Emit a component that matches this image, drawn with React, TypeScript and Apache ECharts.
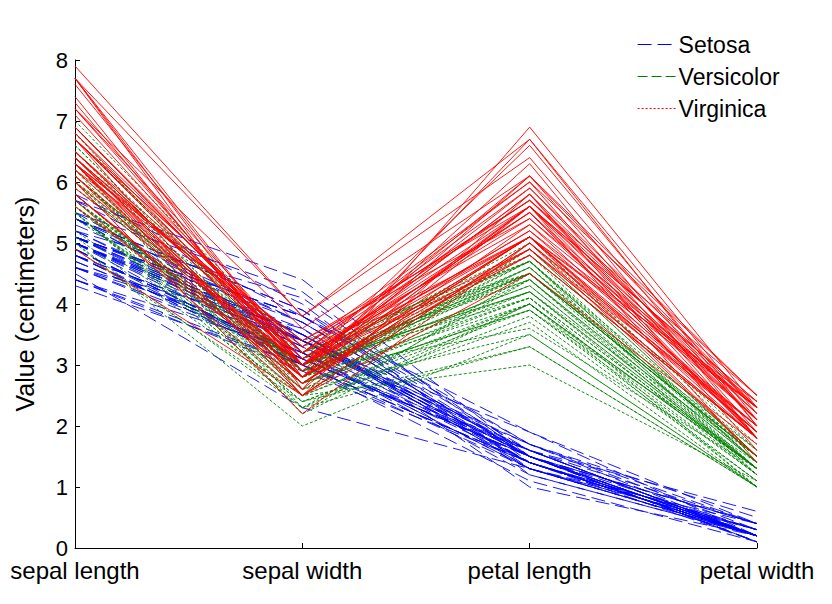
import React, { useEffect, useRef } from 'react';
import * as echarts from 'echarts';

type Row = [number, number, number, number];

const dimensions = ['sepal length', 'sepal width', 'petal length', 'petal width'];
const yTicks = [0, 1, 2, 3, 4, 5, 6, 7, 8];

const setosa: Row[] = [
  [5.1, 3.5, 1.4, 0.2], [4.9, 3.0, 1.4, 0.2], [4.7, 3.2, 1.3, 0.2], [4.6, 3.1, 1.5, 0.2], [5.0, 3.6, 1.4, 0.2],
  [5.4, 3.9, 1.7, 0.4], [4.6, 3.4, 1.4, 0.3], [5.0, 3.4, 1.5, 0.2], [4.4, 2.9, 1.4, 0.2], [4.9, 3.1, 1.5, 0.1],
  [5.4, 3.7, 1.5, 0.2], [4.8, 3.4, 1.6, 0.2], [4.8, 3.0, 1.4, 0.1], [4.3, 3.0, 1.1, 0.1], [5.8, 4.0, 1.2, 0.2],
  [5.7, 4.4, 1.5, 0.4], [5.4, 3.9, 1.3, 0.4], [5.1, 3.5, 1.4, 0.3], [5.7, 3.8, 1.7, 0.3], [5.1, 3.8, 1.5, 0.3],
  [5.4, 3.4, 1.7, 0.2], [5.1, 3.7, 1.5, 0.4], [4.6, 3.6, 1.0, 0.2], [5.1, 3.3, 1.7, 0.5], [4.8, 3.4, 1.9, 0.2],
  [5.0, 3.0, 1.6, 0.2], [5.0, 3.4, 1.6, 0.4], [5.2, 3.5, 1.5, 0.2], [5.2, 3.4, 1.4, 0.2], [4.7, 3.2, 1.6, 0.2],
  [4.8, 3.1, 1.6, 0.2], [5.4, 3.4, 1.5, 0.4], [5.2, 4.1, 1.5, 0.1], [5.5, 4.2, 1.4, 0.2], [4.9, 3.1, 1.5, 0.1],
  [5.0, 3.2, 1.2, 0.2], [5.5, 3.5, 1.3, 0.2], [4.9, 3.1, 1.5, 0.1], [4.4, 3.0, 1.3, 0.2], [5.1, 3.4, 1.5, 0.2],
  [5.0, 3.5, 1.3, 0.3], [4.5, 2.3, 1.3, 0.3], [4.4, 3.2, 1.3, 0.2], [5.0, 3.5, 1.6, 0.6], [5.1, 3.8, 1.9, 0.4],
  [4.8, 3.0, 1.4, 0.3], [5.1, 3.8, 1.6, 0.2], [4.6, 3.2, 1.4, 0.2], [5.3, 3.7, 1.5, 0.2], [5.0, 3.3, 1.4, 0.2],
];

const versicolor: Row[] = [
  [7.0, 3.2, 4.7, 1.4], [6.4, 3.2, 4.5, 1.5], [6.9, 3.1, 4.9, 1.5], [5.5, 2.3, 4.0, 1.3], [6.5, 2.8, 4.6, 1.5],
  [5.7, 2.8, 4.5, 1.3], [6.3, 3.3, 4.7, 1.6], [4.9, 2.4, 3.3, 1.0], [6.6, 2.9, 4.6, 1.3], [5.2, 2.7, 3.9, 1.4],
  [5.0, 2.0, 3.5, 1.0], [5.9, 3.0, 4.2, 1.5], [6.0, 2.2, 4.0, 1.0], [6.1, 2.9, 4.7, 1.4], [5.6, 2.9, 3.6, 1.3],
  [6.7, 3.1, 4.4, 1.4], [5.6, 3.0, 4.5, 1.5], [5.8, 2.7, 4.1, 1.0], [6.2, 2.2, 4.5, 1.5], [5.6, 2.5, 3.9, 1.1],
  [5.9, 3.2, 4.8, 1.8], [6.1, 2.8, 4.0, 1.3], [6.3, 2.5, 4.9, 1.5], [6.1, 2.8, 4.7, 1.2], [6.4, 2.9, 4.3, 1.3],
  [6.6, 3.0, 4.4, 1.4], [6.8, 2.8, 4.8, 1.4], [6.7, 3.0, 5.0, 1.7], [6.0, 2.9, 4.5, 1.5], [5.7, 2.6, 3.5, 1.0],
  [5.5, 2.4, 3.8, 1.1], [5.5, 2.4, 3.7, 1.0], [5.8, 2.7, 3.9, 1.2], [6.0, 2.7, 5.1, 1.6], [5.4, 3.0, 4.5, 1.5],
  [6.0, 3.4, 4.5, 1.6], [6.7, 3.1, 4.7, 1.5], [6.3, 2.3, 4.4, 1.3], [5.6, 3.0, 4.1, 1.3], [5.5, 2.5, 4.0, 1.3],
  [5.5, 2.6, 4.4, 1.2], [6.1, 3.0, 4.6, 1.4], [5.8, 2.6, 4.0, 1.2], [5.0, 2.3, 3.3, 1.0], [5.6, 2.7, 4.2, 1.3],
  [5.7, 3.0, 4.2, 1.2], [5.7, 2.9, 4.2, 1.3], [6.2, 2.9, 4.3, 1.3], [5.1, 2.5, 3.0, 1.1], [5.7, 2.8, 4.1, 1.3],
];

const virginica: Row[] = [
  [6.3, 3.3, 6.0, 2.5], [5.8, 2.7, 5.1, 1.9], [7.1, 3.0, 5.9, 2.1], [6.3, 2.9, 5.6, 1.8], [6.5, 3.0, 5.8, 2.2],
  [7.6, 3.0, 6.6, 2.1], [4.9, 2.5, 4.5, 1.7], [7.3, 2.9, 6.3, 1.8], [6.7, 2.5, 5.8, 1.8], [7.2, 3.6, 6.1, 2.5],
  [6.5, 3.2, 5.1, 2.0], [6.4, 2.7, 5.3, 1.9], [6.8, 3.0, 5.5, 2.1], [5.7, 2.5, 5.0, 2.0], [5.8, 2.8, 5.1, 2.4],
  [6.4, 3.2, 5.3, 2.3], [6.5, 3.0, 5.5, 1.8], [7.7, 3.8, 6.7, 2.2], [7.7, 2.6, 6.9, 2.3], [6.0, 2.2, 5.0, 1.5],
  [6.9, 3.2, 5.7, 2.3], [5.6, 2.8, 4.9, 2.0], [7.7, 2.8, 6.7, 2.0], [6.3, 2.7, 4.9, 1.8], [6.7, 3.3, 5.7, 2.1],
  [7.2, 3.2, 6.0, 1.8], [6.2, 2.8, 4.8, 1.8], [6.1, 3.0, 4.9, 1.8], [6.4, 2.8, 5.6, 2.1], [7.2, 3.0, 5.8, 1.6],
  [7.4, 2.8, 6.1, 1.9], [7.9, 3.8, 6.4, 2.0], [6.4, 2.8, 5.6, 2.2], [6.3, 2.8, 5.1, 1.5], [6.1, 2.6, 5.6, 1.4],
  [7.7, 3.0, 6.1, 2.3], [6.3, 3.4, 5.6, 2.4], [6.4, 3.1, 5.5, 1.8], [6.0, 3.0, 4.8, 1.8], [6.9, 3.1, 5.4, 2.1],
  [6.7, 3.1, 5.6, 2.4], [6.9, 3.1, 5.1, 2.3], [5.8, 2.7, 5.1, 1.9], [6.8, 3.2, 5.9, 2.3], [6.7, 3.3, 5.7, 2.5],
  [6.7, 3.0, 5.2, 2.3], [6.3, 2.5, 5.0, 1.9], [6.5, 3.0, 5.2, 2.0], [6.2, 3.4, 5.4, 2.3], [5.9, 3.0, 5.1, 1.8],
];

const groups = [
  { name: 'Setosa', rows: setosa, color: '#0000ff', dash: [14, 6] as any, legendDash: [14, 6] as any },
  { name: 'Versicolor', rows: versicolor, color: '#008000', dash: [3, 2] as any, legendDash: [10, 4] as any },
  { name: 'Virginica', rows: virginica, color: '#ff0000', dash: 'solid' as any, legendDash: [2, 2] as any },
];

const FONT = 'Liberation Sans, Arial, sans-serif';

export default function App() {
  const ref = useRef<HTMLDivElement | null>(null);

  useEffect(() => {
    if (!ref.current) return;
    const inst = echarts.init(ref.current, undefined, { renderer: 'svg' });
    const series: any[] = [];
    groups.forEach((g) => {
      g.rows.forEach((r) => {
        series.push({
          type: 'line',
          name: g.name,
          data: r,
          showSymbol: false,
          symbol: 'none',
          silent: true,
          lineStyle: { width: 0.9, color: g.color, type: g.dash },
          itemStyle: { color: g.color },
        });
      });
    });
    inst.setOption({
      animation: false,
      backgroundColor: '#ffffff',
      grid: { left: 75, right: 75, top: 60, bottom: 56 },
      legend: {
        data: groups.map((g) => ({
          name: g.name,
          lineStyle: { type: g.legendDash, width: 1.2, color: g.color },
          itemStyle: { opacity: 0 },
        })),
        orient: 'vertical',
        left: 632,
        top: 28,
        itemWidth: 38,
        itemHeight: 16,
        itemGap: 9,
        textStyle: { fontFamily: FONT, fontSize: 23, color: '#000', padding: [0, 0, 0, -2] },
        selectedMode: false,
      },
      xAxis: {
        type: 'category',
        data: dimensions,
        boundaryGap: false,
        axisLine: { lineStyle: { color: '#000' } },
        axisTick: { show: true, inside: true, alignWithLabel: true, lineStyle: { color: '#000' } },
        axisLabel: { color: '#000', fontFamily: FONT, fontSize: 24, margin: 10 },
      },
      yAxis: {
        type: 'value',
        min: 0,
        max: 8,
        interval: 1,
        name: 'Value (centimeters)',
        nameLocation: 'middle',
        nameGap: 38,
        nameTextStyle: { color: '#000', fontFamily: FONT, fontSize: 25 },
        axisLine: { show: true, lineStyle: { color: '#000' } },
        axisTick: { show: true, inside: true, lineStyle: { color: '#000' } },
        axisLabel: { color: '#000', fontFamily: FONT, fontSize: 22, margin: 7, formatter: (v: number) => (yTicks.includes(v) ? String(v) : '') },
        splitLine: { show: false },
      },
      series,
    });
    return () => inst.dispose();
  }, []);

  return <div ref={ref} style={{ position: 'fixed', left: 0, top: 0, width: 832, height: 604 }} />;
}
